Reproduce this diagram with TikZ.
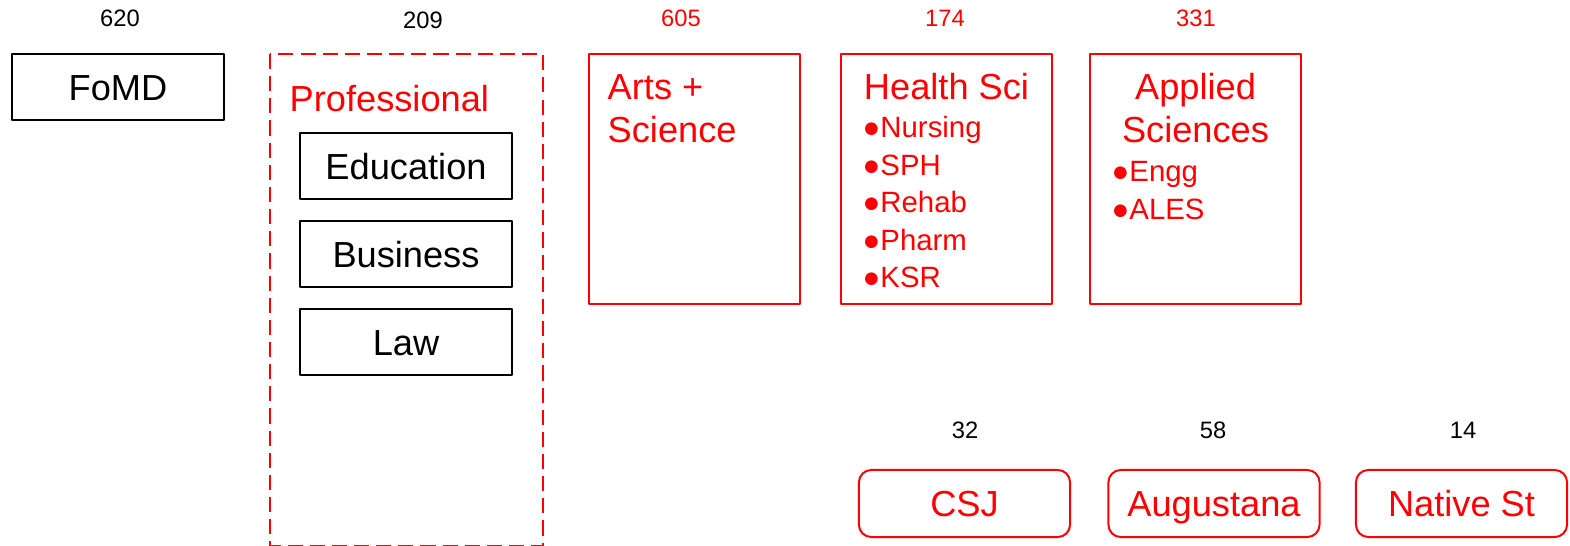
\documentclass[tikz,border=0pt]{standalone}
\usepackage{fontspec}
\setmainfont{Liberation Sans}
\usetikzlibrary{positioning}
\definecolor{ored}{RGB}{255,0,0}

\begin{document}
\begin{tikzpicture}[x=0.01cm, y=-0.01cm, line join=round,
  box/.style={draw, line width=0.57pt, minimum width=2.11cm, minimum height=0.66cm, inner sep=0pt,
    text height=7.4pt, text depth=0pt, font=\fontsize{10.3}{12.5}\selectfont},
  tallbox/.style={box, draw=ored, minimum height=2.5cm},
  roundbox/.style={box, draw=ored, text=ored, rounded corners=3.5pt, minimum height=0.67cm},
  count/.style={inner sep=0pt, font=\fontsize{6.75}{8}\selectfont},
  head/.style={inner sep=0pt, text=ored, font=\fontsize{10.3}{12.5}\selectfont},
  items/.style={inner sep=0pt, text=ored, font=\fontsize{8.35}{10.7}\selectfont}]
\useasboundingbox (0,0) rectangle (1570,545);
% counts
\node[count]          (cfomd) at (120,18)  {620};
\node[count]          (cprof) at (423,20)  {209};
\node[count,text=ored] (carts) at (681,18)  {605};
\node[count,text=ored] (chsci) at (945,18)  {174};
\node[count,text=ored] (cappl) at (1196,18) {331};
\node[count]          (ccsj)  at (965,430)  {32};
\node[count]          (caug)  at (1213,430) {58};
\node[count]          (cnat)  at (1463,430) {14};
% FoMD
\node[box] (fomd) at (118,87) {FoMD};
% professional faculties
\draw[ored, line width=0.57pt, dash pattern=on 4.3pt off 2pt] (270,54) rectangle (543,546);
\node[head, anchor=base west] (prof) at (289,111.5) {Professional};
\node[box] (edu) at (406,166) {Education};
\node[box] (bus) at (406,254) {Business};
\node[box] (law) at (406,342) {Law};
% arts + science
\node[tallbox] (arts) at (694.5,179) {};
\node[head, anchor=base west] (artst1) at (607,99)  {Arts +};
\node[head, anchor=base west] (artst2) at (607,142) {Science};
% health sciences
\node[tallbox] (hsci) at (946.5,179) {};
\node[head, anchor=base] (hscit) at (946.5,99) {Health Sci};
\foreach \t [count=\i] in {Nursing,SPH,Rehab,Pharm,KSR}
  \node[items, anchor=base west] (hs\i) at (862,100+37.5*\i) {●\t};
% applied sciences
\node[tallbox] (appl) at (1195.5,179) {};
\node[head, anchor=base] (applt1) at (1195.5,99)  {Applied};
\node[head, anchor=base] (applt2) at (1195.5,142) {Sciences};
\foreach \t [count=\i] in {Engg,ALES}
  \node[items, anchor=base west] (as\i) at (1111,144+37.5*\i) {●\t};
% others
\node[roundbox] (csj) at (964.5,503.5) {CSJ};
\node[roundbox] (aug) at (1214,503.5)  {Augustana};
\node[roundbox] (nat) at (1461.5,503.5) {Native St};
\end{tikzpicture}
\end{document}
